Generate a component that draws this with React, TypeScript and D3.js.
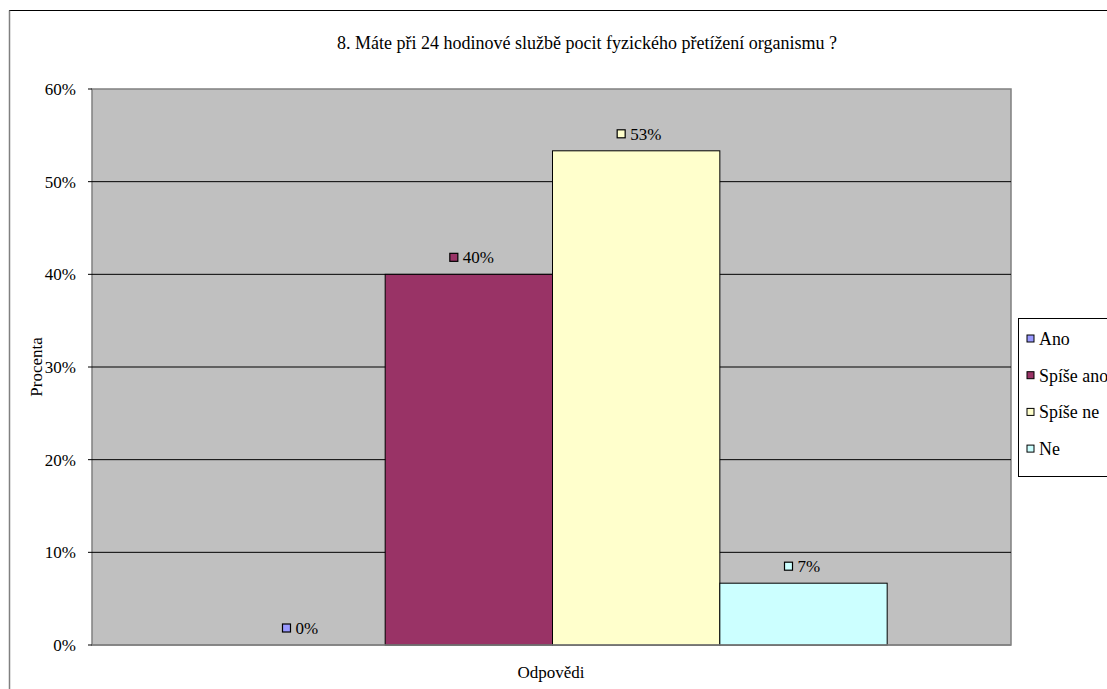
import React from "react";
import * as d3 from "d3";

const title = "8. Máte při 24 hodinové službě pocit fyzického přetížení organismu ?";
const categories = ["Ano", "Spíše ano", "Spíše ne", "Ne"];
const values = [0, 40, 53.33, 6.67];
const valueLabels = ["0%", "40%", "53%", "7%"];
const colors = ["#9999FF", "#993366", "#FFFFCC", "#CCFFFF"];
const yTicks = [0, 10, 20, 30, 40, 50, 60];
const yLabel = "Procenta";
const xLabel = "Odpovědi";

export default function App() {
  const W = 1107, H = 689;
  const left = 92, right = 1011, top = 89, bottom = 645;
  const y = d3.scaleLinear().domain([0, 60]).range([bottom, top]);
  const plotW = right - left;
  const x = d3.scaleBand<string>().domain(categories).range([left + 2, right]).paddingInner(0).paddingOuter(0.74);
  const font = "'Liberation Serif', 'Times New Roman', 'DejaVu Serif', serif";
  return (
    <svg width={W} height={H} style={{ position: "absolute", left: 0, top: 0, fontFamily: font }}>
      <rect x={0} y={0} width={W} height={H} fill="#fff" />
      <rect x={9.5} y={10.5} width={W + 10} height={H + 10} fill="none" stroke="#000" strokeWidth={1} />
      <line x1={9.5} y1={10.5} x2={9.5} y2={H} stroke="#808080" strokeWidth={1.5} />
      <text x={587} y={49} textAnchor="middle" fontSize={18}>{title}</text>
      <rect x={left} y={top} width={plotW} height={bottom - top} fill="#C0C0C0" stroke="#808080" strokeWidth={1.5} />
      {yTicks.map((t) => (
        <g key={t}>
          {t > 0 && t < 60 && (
            <line x1={left} x2={right} y1={y(t)} y2={y(t)} stroke="#000" strokeWidth={1} />
          )}
          <line x1={left - 4} x2={left} y1={y(t)} y2={y(t)} stroke="#000" strokeWidth={1} />
          <text x={76} y={y(t) + 6} textAnchor="end" fontSize={17}>{t + "%"}</text>
        </g>
      ))}
      {categories.map((c, i) => {
        const bx = x(c)!;
        const bw = x.bandwidth();
        const yt = y(values[i]);
        const cx = bx + bw / 2;
        return (
          <g key={c}>
            {values[i] > 0 && (
              <rect x={bx} y={yt} width={bw} height={bottom - yt} fill={colors[i]} stroke="#000" strokeWidth={1} />
            )}
            <rect x={cx - 19} y={yt - 21} width={8} height={8} fill={colors[i]} stroke="#000" strokeWidth={1.2} />
            <text x={cx - 6} y={yt - 11} fontSize={17}>{valueLabels[i]}</text>
          </g>
        );
      })}
      <line x1={left} x2={right} y1={bottom} y2={bottom} stroke="#808080" strokeWidth={1.5} />
      <text transform={`translate(42, ${(top + bottom) / 2}) rotate(-90)`} textAnchor="middle" fontSize={17}>{yLabel}</text>
      <text x={551} y={678} textAnchor="middle" fontSize={17}>{xLabel}</text>
      <rect x={1018.5} y={318.5} width={120} height={158} fill="#fff" stroke="#000" strokeWidth={1} />
      {categories.map((c, i) => {
        const ly = 339 + i * 36.7;
        return (
          <g key={"lg" + c}>
            <rect x={1027} y={ly - 4} width={7} height={7} fill={colors[i]} stroke="#000" strokeWidth={1} />
            <text x={1039} y={ly + 6} fontSize={17.9}>{c}</text>
          </g>
        );
      })}
    </svg>
  );
}
